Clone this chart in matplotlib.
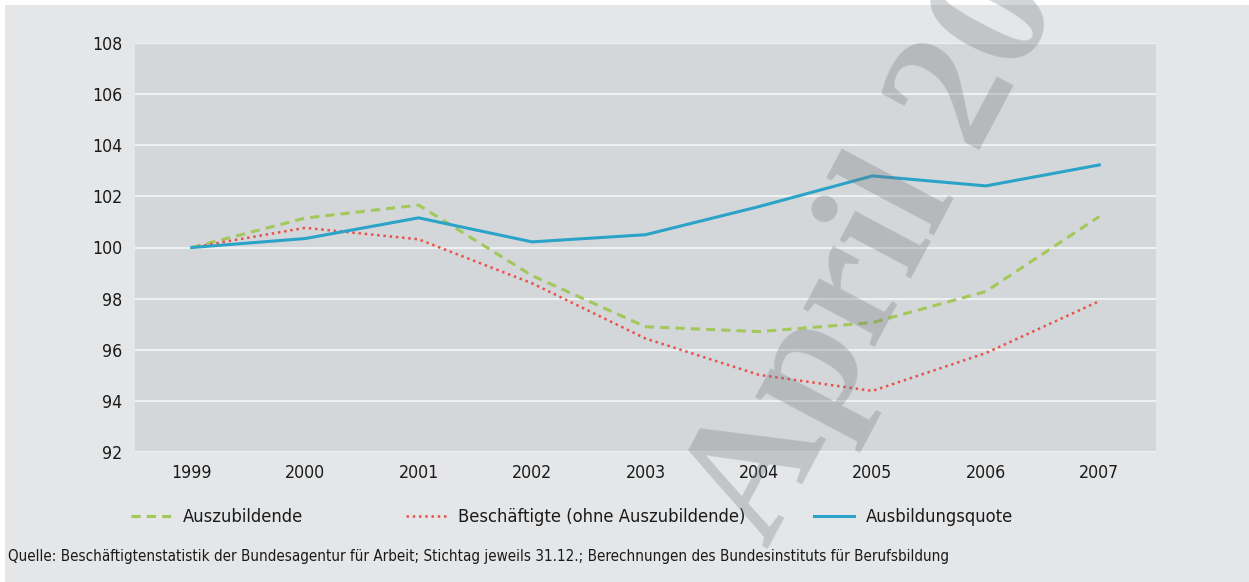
import matplotlib
matplotlib.use('Agg')
import matplotlib.pyplot as plt
from matplotlib import font_manager
from matplotlib.patches import Rectangle

# data (index, 1999 = 100)

years = ['1999', '2000', '2001', '2002', '2003', '2004', '2005', '2006', '2007']
auszubildende = [100.0, 101.15, 101.66, 98.9, 96.9, 96.71, 97.06, 98.28, 101.21]
beschaeftigte = [100.0, 100.77, 100.32, 98.6, 96.44, 95.02, 94.39, 95.87, 97.9]
quote = [100.0, 100.35, 101.16, 100.22, 100.5, 101.6, 102.8, 102.41, 103.23]

labels = ['Auszubildende', 'Beschäftigte (ohne Auszubildende)', 'Ausbildungsquote']
source = ('Quelle: Beschäftigtenstatistik der Bundesagentur für Arbeit; Stichtag jeweils 31.12.; '
          'Berechnungen des Bundesinstituts für Berufsbildung')

# the original uses a condensed sans; take a narrow one if installed

names = {f.name for f in font_manager.fontManager.ttflist}
if 'Liberation Sans Narrow' in names:
    plt.rcParams['font.family'] = ['Liberation Sans Narrow', 'DejaVu Sans']
    stretch = 'normal'
else:
    plt.rcParams['font.family'] = ['DejaVu Sans']
    stretch = 'condensed'
serif = 'Liberation Serif' if 'Liberation Serif' in names else 'DejaVu Serif'

c_green = '#a3c85a'
c_red = '#e8524a'
c_blue = '#2ba3c8'
c_text = '#1a1a1a'

fig = plt.figure(figsize=(12.49, 5.82), dpi=100, facecolor='white')
fig.patches.append(Rectangle((5 / 1249, 0), 1, 1 - 5 / 582, transform=fig.transFigure,
                             facecolor='#e5e6e8', edgecolor='none', zorder=-10))

# source line first, to scale all text so widths match the original

src = fig.text(8 / 1249, 1 - 557 / 582, source, fontsize=12, fontstretch=stretch,
               color=c_text, va='center', ha='left')
fig.canvas.draw()
k = 935 / src.get_window_extent().width * 12 / 12.8
src.set_fontsize(12.8 * k)

ax = fig.add_axes([135 / 1249, 1 - 452 / 582, 1021 / 1249, 409 / 582])
ax.set_facecolor('#d4d7da')

x = range(len(years))
ax.plot(x, auszubildende, color=c_green, lw=2.2, dashes=(3, 2), label=labels[0])
ax.plot(x, beschaeftigte, color=c_red, lw=1.8, dashes=(1, 1.5), label=labels[1])
ax.plot(x, quote, color=c_blue, lw=2.2, label=labels[2])

ax.set_xlim(-0.5, 8.5)
ax.set_ylim(92, 108)
ax.set_yticks(range(92, 109, 2))
ax.set_xticks(list(x))
ax.set_xticklabels(years)
ax.grid(axis='y', color='#eef0f1', lw=1.5)
ax.set_axisbelow(True)
for s in ax.spines.values():
    s.set_visible(False)
ax.tick_params(length=0, labelsize=15 * k, labelcolor=c_text)
ax.tick_params(axis='y', pad=9)
ax.tick_params(axis='x', pad=9)
for t in ax.get_xticklabels() + ax.get_yticklabels():
    t.set_fontstretch(stretch)

# legend: three separate entries at fixed spots

fs = 15.5 * k
em = fs * 100 / 72
handles = ax.get_lines()
spots = [131, 406, 814]
for h, lab, px in zip(handles, labels, spots):
    fig.legend([h], [lab], loc='center left', bbox_to_anchor=(px / 1249, 1 - 517 / 582),
               frameon=False, borderpad=0, borderaxespad=0, handlelength=40 / em,
               handletextpad=12 / em, prop={'size': fs, 'stretch': stretch},
               labelcolor=c_text)

# watermark

fig.text(767 / 1249, 1 - 550 / 582, 'April 2009', family=serif, weight='bold',
         fontsize=127, color='#707478', alpha=0.3, rotation=62,
         rotation_mode='anchor', ha='left', va='baseline', zorder=20)

fig.savefig('out.png', dpi=100)
